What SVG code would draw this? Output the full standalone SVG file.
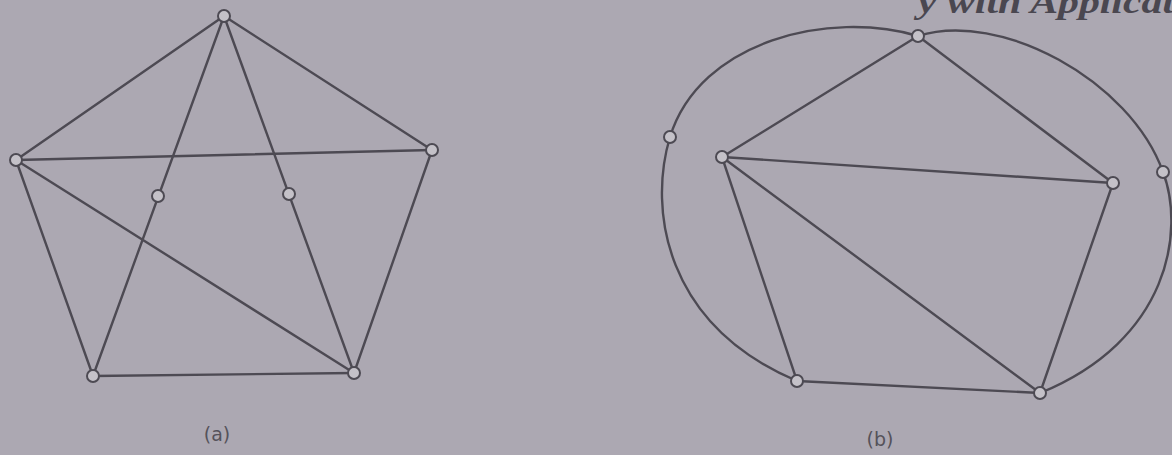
<svg xmlns="http://www.w3.org/2000/svg" width="1172" height="455" viewBox="0 0 1172 455">
<style>
.e{stroke:#4d4a53;stroke-width:2.4;fill:none;stroke-linecap:round}
.v{fill:#c4c1c8;stroke:#4d4a53;stroke-width:2}
.lbl{font-family:"DejaVu Sans",sans-serif;font-size:19px;fill:#55525a}
.hdr{font-family:"Liberation Serif",serif;font-style:italic;font-weight:bold;font-size:34px;fill:#4a4750}
</style>
<rect width="1172" height="455" fill="#aca8b2"/>
<text class="hdr" x="918" y="13" textLength="256" lengthAdjust="spacingAndGlyphs">y with Applicat</text>
<g id="connectors">
<line class="e" x1="224" y1="16" x2="16" y2="160"/>
<line class="e" x1="224" y1="16" x2="432" y2="150"/>
<line class="e" x1="16" y1="160" x2="93" y2="376"/>
<line class="e" x1="93" y1="376" x2="354" y2="373"/>
<line class="e" x1="432" y1="150" x2="354" y2="373"/>
<line class="e" x1="16" y1="160" x2="432" y2="150"/>
<line class="e" x1="16" y1="160" x2="354" y2="373"/>
<line class="e" x1="224" y1="16" x2="93" y2="376"/>
<line class="e" x1="224" y1="16" x2="354" y2="373"/>
<line class="e" x1="918" y1="36" x2="722" y2="157"/>
<line class="e" x1="918" y1="36" x2="1113" y2="183"/>
<line class="e" x1="722" y1="157" x2="1113" y2="183"/>
<line class="e" x1="722" y1="157" x2="797" y2="381"/>
<line class="e" x1="722" y1="157" x2="1040" y2="393"/>
<line class="e" x1="797" y1="381" x2="1040" y2="393"/>
<line class="e" x1="1113" y1="183" x2="1040" y2="393"/>
<path class="e" d="M918,36 C830,10 700,40 670,137 C648,210 665,325 797,381"/>
<path class="e" d="M918,36 C1000,10 1130,80 1163,172 C1185,230 1170,340 1040,393"/>
</g>
<g id="a-top"><circle class="v" cx="224" cy="16" r="6"/></g>
<g id="a-left"><circle class="v" cx="16" cy="160" r="6"/></g>
<g id="a-right"><circle class="v" cx="432" cy="150" r="6"/></g>
<g id="a-bl"><circle class="v" cx="93" cy="376" r="6"/></g>
<g id="a-br"><circle class="v" cx="354" cy="373" r="6"/></g>
<g id="a-in1"><circle class="v" cx="158" cy="196" r="6"/></g>
<g id="a-in2"><circle class="v" cx="289" cy="194" r="6"/></g>
<g id="b-top"><circle class="v" cx="918" cy="36" r="6"/></g>
<g id="b-left"><circle class="v" cx="722" cy="157" r="6"/></g>
<g id="b-right"><circle class="v" cx="1113" cy="183" r="6"/></g>
<g id="b-bl"><circle class="v" cx="797" cy="381" r="6"/></g>
<g id="b-br"><circle class="v" cx="1040" cy="393" r="6"/></g>
<g id="b-outl"><circle class="v" cx="670" cy="137" r="6"/></g>
<g id="b-outr"><circle class="v" cx="1163" cy="172" r="6"/></g>
<text class="lbl" x="217" y="441" text-anchor="middle">(a)</text>
<text class="lbl" x="880" y="446" text-anchor="middle">(b)</text>
</svg>
